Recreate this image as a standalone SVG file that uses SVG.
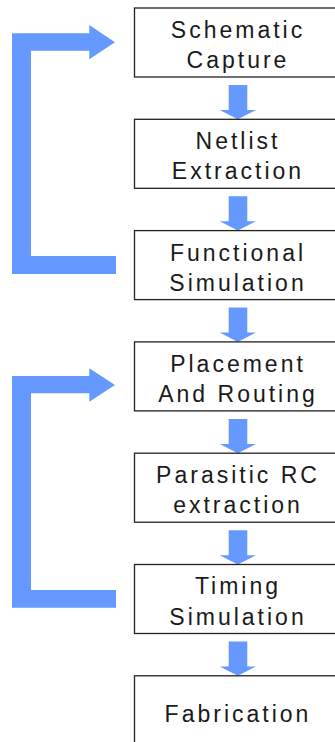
<svg xmlns="http://www.w3.org/2000/svg" width="335" height="742" viewBox="0 0 335 742">
  <style>
    .box { fill: #ffffff; stroke: #222222; stroke-width: 1.3; }
    .lbl { font-family: "Liberation Sans", Arial, sans-serif; font-size: 23px; letter-spacing: 3px; fill: #1a1a1a; text-anchor: middle; }
    .flow { fill: #6699ff; stroke: none; }
  </style>
  <rect width="335" height="742" fill="#ffffff"/>

  <g id="connectors">
    <!-- feedback loop: Functional Simulation back to Schematic Capture -->
    <path class="flow" d="M116,256 V274 H12 V33.3 H89.3 V25 L115,42.2 L89.3,59.3 V50.7 H31 V256 Z"/>
    <!-- feedback loop: Timing Simulation back to Placement And Routing -->
    <path class="flow" d="M116,590 V607.7 H12 V376 H89.3 V368.3 L115,385 L89.3,401.7 V393.3 H31 V590 Z"/>
    <!-- downward flow arrows between stages -->
    <path class="flow" d="M228.7,85 H247.3 V110 H256 L237.8,119.3 L219.7,110 H228.7 Z"/>
    <path class="flow" d="M228.7,196.3 H247.3 V221.3 H256 L237.8,230.6 L219.7,221.3 H228.7 Z"/>
    <path class="flow" d="M228.7,307.6 H247.3 V332.6 H256 L237.8,341.9 L219.7,332.6 H228.7 Z"/>
    <path class="flow" d="M228.7,418.9 H247.3 V443.9 H256 L237.8,453.2 L219.7,443.9 H228.7 Z"/>
    <path class="flow" d="M228.7,530.2 H247.3 V555.2 H256 L237.8,564.5 L219.7,555.2 H228.7 Z"/>
    <path class="flow" d="M228.7,641.5 H247.3 V666.5 H256 L237.8,675.8 L219.7,666.5 H228.7 Z"/>
  </g>

  <g id="schematic-capture">
    <rect class="box" x="134.5" y="8" width="202" height="69"/>
    <text class="lbl" x="238" y="37.5">Schematic</text>
    <text class="lbl" x="238" y="68">Capture</text>
  </g>
  <g id="netlist-extraction">
    <rect class="box" x="134.5" y="119.3" width="202" height="69"/>
    <text class="lbl" x="238" y="148.8">Netlist</text>
    <text class="lbl" x="238" y="179.3">Extraction</text>
  </g>
  <g id="functional-simulation">
    <rect class="box" x="134.5" y="230.6" width="202" height="69"/>
    <text class="lbl" x="238" y="260.5">Functional</text>
    <text class="lbl" x="238" y="290.6">Simulation</text>
  </g>
  <g id="placement-and-routing">
    <rect class="box" x="134.5" y="341.9" width="202" height="69"/>
    <text class="lbl" x="238" y="371.6">Placement</text>
    <text class="lbl" x="238" y="401.9">And Routing</text>
  </g>
  <g id="parasitic-rc-extraction">
    <rect class="box" x="134.5" y="453.2" width="202" height="69"/>
    <text class="lbl" x="238" y="482.7">Parasitic RC</text>
    <text class="lbl" x="238" y="513.2">extraction</text>
  </g>
  <g id="timing-simulation">
    <rect class="box" x="134.5" y="564.5" width="202" height="69"/>
    <text class="lbl" x="238" y="594">Timing</text>
    <text class="lbl" x="238" y="624.5">Simulation</text>
  </g>
  <g id="fabrication">
    <rect class="box" x="134.5" y="675.8" width="202" height="69"/>
    <text class="lbl" x="238" y="721.5">Fabrication</text>
  </g>
</svg>
